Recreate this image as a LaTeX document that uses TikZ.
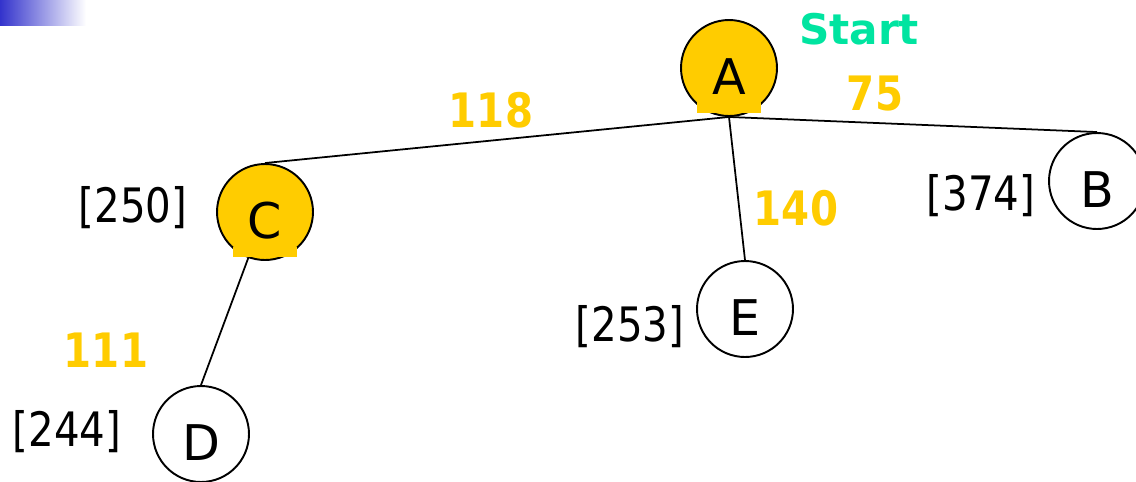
\documentclass[tikz,border=0pt]{standalone}
\usepackage{fontspec}
\setmainfont{DejaVu Sans}
\newfontfamily\costfont[FakeStretch=0.85]{DejaVu Sans}
\usepackage{xcolor}
\usetikzlibrary{positioning}
\definecolor{gold}{RGB}{255,204,0}
\definecolor{startgreen}{RGB}{0,228,160}
\definecolor{barblue}{RGB}{51,51,204}

\begin{document}
\begin{tikzpicture}[x=0.02cm,y=-0.02cm,
	city/.style={circle,draw,line width=1.1pt,minimum size=1.92cm,inner sep=0pt,
		font=\fontsize{28}{30}\selectfont,text height=30pt,text depth=0pt},
	visited/.style={city,fill=gold},
	fval/.style={anchor=base,inner sep=0pt,font=\costfont\fontsize{27}{30}\selectfont},
	cost/.style={anchor=base,inner sep=0pt,text=gold,font=\costfont\bfseries\fontsize{27}{30}\selectfont},
	edge/.style={line width=1pt}]
	\useasboundingbox (0,0) rectangle (1136,481);
	% bar in the corner
	\shade[left color=barblue,right color=white] (0,0) rectangle (86,25);
	% the cities
	\node[visited] (A) at (729,68) {A};
	\node[visited] (C) at (265,212) {C};
	\node[city] (D) at (201,434) {D};
	\node[city] (E) at (745,309) {E};
	\node[city] (B) at (1097,181) {B};
	% frames behind the letters
	\fill[gold] ([shift={(-32,32)}]A.center) rectangle ([shift={(32,45)}]A.center);
	\fill[gold] ([shift={(-32,35)}]C.center) rectangle ([shift={(32,45)}]C.center);
	% tree edges
	\draw[edge] (A.south) -- (C.north);
	\draw[edge] (A.south) -- (E.north);
	\draw[edge] (A.south) -- (B.north);
	\draw[edge] (C.250) -- (D.north);
	% f values
	\node[fval] (fC) at (133,222) {[250]};
	\node[fval] (fE) at (630,341) {[253]};
	\node[fval] (fB) at (981,210) {[374]};
	\node[fval] (fD) at (67,446) {[244]};
	% step costs
	\node[cost] (wAC) at (491,127) {118};
	\node[cost] (wAB) at (875,110) {75};
	\node[cost] (wAE) at (796,225) {140};
	\node[cost] (wCD) at (106,367) {111};
	\node[anchor=base,inner sep=0pt,text=startgreen,font=\bfseries\fontsize{24}{26}\selectfont] (start) at (859,44) {Start};
\end{tikzpicture}
\end{document}
